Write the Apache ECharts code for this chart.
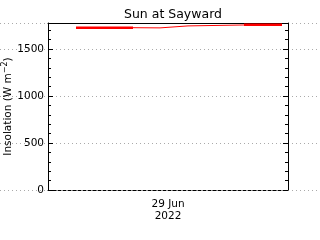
<!DOCTYPE html>
<html><head><meta charset="utf-8">
<script src="https://cdn.jsdelivr.net/npm/echarts@6/dist/echarts.min.js"></script>
<style>html,body{margin:0;padding:0;background:#fff}#c{width:320px;height:240px}</style>
</head><body><div id="c"></div>
<script>
// hours relative to 29 Jun 2022 00:00
const xTickLabels = ['29 Jun\n2022'];
const stepX = [-9.2, -3.5, -0.8, 2.0, 7.6, 11.4];
const stepY = [1726, 1724, 1745, 1755, 1757, 1757];
const thickAX = [-9.2, -3.5], thickAY = [1726, 1726];
const thickBX = [7.6, 11.4], thickBY = [1757, 1757];
const yMin = 0, yMax = 1776, yInterval = 500;

const zip = (a, b) => a.map((v, i) => [v, b[i]]);
const font = 'DejaVu Sans';
const chart = echarts.init(document.getElementById('c'), null, {renderer: 'canvas'});
const yCommon = {min: yMin, max: yMax, interval: yInterval};
chart.setOption({
  animation: false,
  title: {text: 'Sun at Sayward', left: 168, textAlign: 'center', top: 3,
    textStyle: {fontFamily: font, fontSize: 12.5, fontWeight: 'normal', color: '#000'}},
  grid: [
    {left: 0, right: 0, top: 23, bottom: 50, containLabel: false, outerBoundsMode: 'none'},
    {left: 48, right: 32, top: 23, bottom: 50, containLabel: false, outerBoundsMode: 'none'}
  ],
  xAxis: [
    {gridIndex: 0, type: 'value', min: 0, max: 1, show: false},
    {gridIndex: 1, type: 'value', min: -12, max: 12, interval: 12,
      axisLine: {onZero: false, lineStyle: {color: '#000', type: [3, 2], width: 1}},
      axisTick: {show: false}, splitLine: {show: false},
      axisLabel: {margin: 8, fontFamily: font, fontSize: 10.5, color: '#000', lineHeight: 12,
        formatter: v => v === 0 ? xTickLabels[0] : ''}},
    {gridIndex: 1, type: 'value', min: -12, max: 12, position: 'top',
      axisLine: {show: true, onZero: false, lineStyle: {color: '#000', width: 1}}, axisTick: {show: false},
      axisLabel: {show: false}, splitLine: {show: false}}
  ],
  yAxis: [
    Object.assign({gridIndex: 0, type: 'value', axisLine: {show: false}, axisTick: {show: false},
      axisLabel: {show: false},
      splitLine: {show: true, lineStyle: {color: '#aaa', type: [1, 3], width: 1}}}, yCommon),
    Object.assign({gridIndex: 1, type: 'value',
      name: '{a|Insolation (W m}{s|−2}{a|)}', nameLocation: 'middle', nameGap: 33, nameRotate: 90,
      nameMoveOverlap: false,
      nameTextStyle: {rich: {a: {fontFamily: font, fontSize: 10.5, color: '#000'},
        s: {fontFamily: font, fontSize: 8, color: '#000', verticalAlign: 'top', padding: [0, 0, 6, 0]}}},
      axisLine: {show: true, onZero: false, lineStyle: {color: '#000', width: 1}},
      axisTick: {show: true, inside: true, length: 5, lineStyle: {color: '#000'}},
      minorTick: {show: true, splitNumber: 5, length: 3, lineStyle: {color: '#000'}},
      axisLabel: {margin: 4, fontFamily: font, fontSize: 10.5, color: '#000',
        formatter: v => (v % 500 === 0 ? String(v) : '')},
      splitLine: {show: false}}, yCommon),
    Object.assign({gridIndex: 1, type: 'value', position: 'right',
      axisLine: {show: true, onZero: false, lineStyle: {color: '#000', width: 1}},
      axisTick: {show: true, inside: true, length: 5, lineStyle: {color: '#000'}},
      minorTick: {show: true, splitNumber: 5, length: 3, lineStyle: {color: '#000'}},
      axisLabel: {show: false}, splitLine: {show: false}}, yCommon)
  ],
  series: [
    {type: 'line', xAxisIndex: 1, yAxisIndex: 1, step: 'end', symbol: 'none',
      data: zip(stepX, stepY), lineStyle: {color: '#ff0000', width: 1}},
    {type: 'line', xAxisIndex: 1, yAxisIndex: 1, symbol: 'none',
      data: zip(thickAX, thickAY), lineStyle: {color: '#ff0000', width: 2.5}},
    {type: 'line', xAxisIndex: 1, yAxisIndex: 1, symbol: 'none',
      data: zip(thickBX, thickBY), lineStyle: {color: '#ff0000', width: 2.5}}
  ]
});
</script></body></html>
